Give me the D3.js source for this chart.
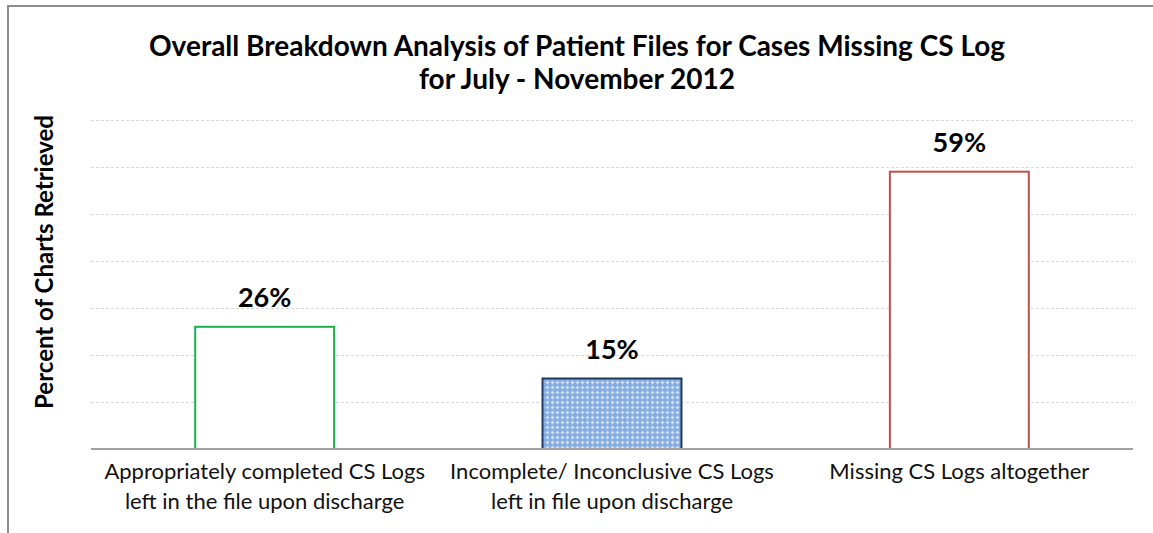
<!DOCTYPE html>
<html>
<head>
<meta charset="utf-8">
<script src="https://cdn.jsdelivr.net/npm/d3@7"></script>
<style>
  body { margin: 0; background: #fff; }
  svg { display: block; font-family: Lato, "Open Sans", sans-serif; }
</style>
</head>
<body>
<div id="chart"></div>
<script>
var categories = [
	["Appropriately completed CS Logs", "left in the file upon discharge"],
	["Incomplete/ Inconclusive CS Logs", "left in file upon discharge"],
	["Missing CS Logs altogether"]
];
var values = [0.26, 0.15, 0.59];
var yTicks = [0.1, 0.2, 0.3, 0.4, 0.5, 0.6, 0.7];
var titleLines = ["Overall Breakdown Analysis of Patient Files for Cases Missing CS Log", "for July - November 2012"];
var yTitle = "Percent of Charts Retrieved";

var w = 1153, h = 533;
var margin = {top: 120, right: 20, bottom: 84, left: 91};

var svg = d3.select("#chart")
			.append("svg")
			.attr("width", w)
			.attr("height", h);

// blue lattice pattern for the middle bar
var defs = svg.append("defs");
var pat = defs.append("pattern")
	.attr("id", "lattice")
	.attr("patternUnits", "userSpaceOnUse")
	.attr("width", 5)
	.attr("height", 5);
pat.append("rect").attr("width", 5).attr("height", 5).attr("fill", "#86ade0");
pat.append("path")
	.attr("d", "M2.5 0.5 L4.5 2.5 L2.5 4.5 L0.5 2.5 Z")
	.attr("fill", "#c4d8f2");
pat.append("rect").attr("x", 2).attr("y", 2).attr("width", 1).attr("height", 1).attr("fill", "#e2ecf9");

// frame from the page
svg.append("path")
   .attr("d", "M8 " + h + " L8 6 L" + w + " 6")
   .attr("fill", "none")
   .attr("stroke", "#8c8c8c")
   .attr("stroke-width", 2);

svg.append("text")
   .attr("x", 33)
   .attr("y", -4)
   .style("font-family", "'Liberation Serif', serif")
   .style("font-weight", "bold")
   .style("font-size", "19px")
   .text("g");

var xScale = d3.scaleBand()
			   .domain(d3.range(categories.length))
			   .range([margin.left, w - margin.right])
			   .paddingInner(0.6)
			   .paddingOuter(0.3);

var yScale = d3.scaleLinear()
			   .domain([0, 0.7])
			   .range([h - margin.bottom, margin.top]);

// gridlines
svg.selectAll("line.grid")
   .data(yTicks)
   .enter()
   .append("line")
   .attr("class", "grid")
   .attr("x1", margin.left)
   .attr("x2", w - margin.right)
   .attr("y1", d => Math.round(yScale(d)) + 0.5)
   .attr("y2", d => Math.round(yScale(d)) + 0.5)
   .attr("stroke", "#d9d9d9")
   .attr("stroke-dasharray", "3,2");

var fills = ["#ffffff", "url(#lattice)", "#ffffff"];
var strokes = ["#1fae50", "#1f3a60", "#c0504d"];

svg.selectAll("rect.bar")
   .data(values)
   .enter()
   .append("rect")
   .attr("class", "bar")
   .attr("x", (d, i) => xScale(i))
   .attr("y", d => yScale(d))
   .attr("width", xScale.bandwidth())
   .attr("height", d => yScale(0) - yScale(d))
   .attr("fill", (d, i) => fills[i])
   .attr("stroke", (d, i) => strokes[i])
   .attr("stroke-width", 2);

// x axis line
svg.append("line")
   .attr("x1", margin.left)
   .attr("x2", w - margin.right)
   .attr("y1", yScale(0))
   .attr("y2", yScale(0))
   .attr("stroke", "#a0a0a0")
   .attr("stroke-width", 2);

// value labels
svg.selectAll("text.val")
   .data(values)
   .enter()
   .append("text")
   .attr("class", "val")
   .attr("x", (d, i) => xScale(i) + xScale.bandwidth() / 2)
   .attr("y", d => yScale(d) - 20)
   .attr("text-anchor", "middle")
   .style("font-size", "27px")
   .style("font-weight", "bold")
   .text(d => d3.format(".0%")(d));

// category labels
var cat = svg.selectAll("text.cat")
   .data(categories)
   .enter()
   .append("text")
   .attr("class", "cat")
   .attr("x", (d, i) => xScale(i) + xScale.bandwidth() / 2)
   .attr("y", yScale(0) + 30)
   .attr("text-anchor", "middle")
   .style("font-size", "22px")
   .attr("fill", "#111");

cat.selectAll("tspan")
   .data(d => d)
   .enter()
   .append("tspan")
   .attr("x", function() { return d3.select(this.parentNode).attr("x"); })
   .attr("dy", (d, i) => i === 0 ? 0 : 30)
   .text(d => d);

// title
svg.selectAll("text.title")
   .data(titleLines)
   .enter()
   .append("text")
   .attr("class", "title")
   .attr("x", 577)
   .attr("y", (d, i) => 56 + i * 33)
   .attr("text-anchor", "middle")
   .style("font-size", "28px")
   .style("font-weight", "bold")
   .text(d => d);

// y axis title
svg.append("text")
   .attr("transform", "rotate(-90)")
   .attr("x", -262)
   .attr("y", 53)
   .attr("text-anchor", "middle")
   .style("font-size", "24px")
   .style("font-weight", "bold")
   .text(yTitle);
</script>
</body>
</html>
